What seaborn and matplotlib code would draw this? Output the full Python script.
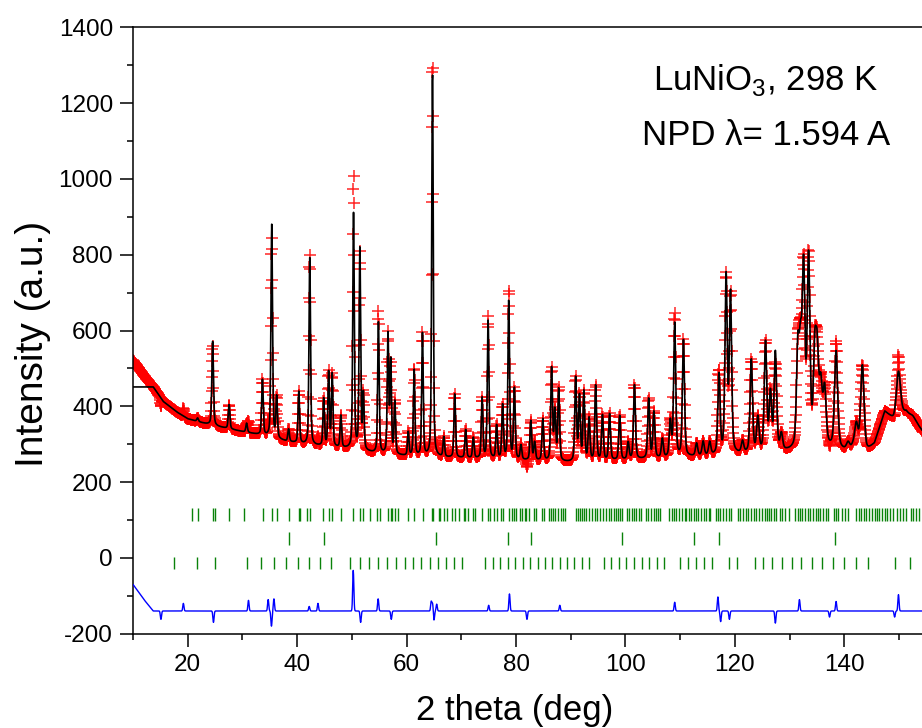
import numpy as np
import matplotlib.pyplot as plt
import seaborn as sns
from matplotlib.ticker import MultipleLocator

# --- data -----------------------------------------------------------------
# background of the calculated profile (2theta, intensity)
bg_x = [10, 13.7, 15.5, 18, 20, 23, 26, 30, 34, 38, 42, 46, 50, 54, 60, 70,
        80, 90, 100, 110, 120, 130, 137, 140, 144, 145.5, 147.4, 149, 151.3,
        153, 156, 160]
bg_y = [451, 451, 413, 385, 367, 355, 345, 333, 322, 307, 298, 292, 287, 276,
        268, 263, 258, 252, 258, 265, 272, 280, 290, 282, 278, 300, 385, 365,
        385, 360, 300, 290]

# observed excess over the calculated background at the lowest angles
excess_x = [10, 11, 12, 13, 13.7, 14.5]
excess_y = [70, 50, 30, 12, 0, 0]

# peak positions (deg) and peak tops (a.u.)
peak_pos = [21.8, 24.55, 27.55, 30.76, 33.65, 35.35, 36.25, 38.43, 40.3, 42.3,
            44.85, 45.75, 46.4, 47.99, 50.3, 51.46, 52.1, 54.85, 56.6, 57.1,
            57.85, 60.3, 61.38, 62.9, 64.73, 66.8, 68.8, 70.8, 72.2, 73.8,
            74.9, 76.45, 77.55, 78.67, 79.7, 80.9, 82.7, 83.4, 84.9, 86.5,
            87.1, 87.8, 90.9, 91.6, 92.4, 93.35, 94.56, 95.8, 97.1, 98.95,
            100.5, 101.65, 104.25, 105.2, 106.75, 108.2, 109.0, 110.6, 113.0,
            114.2, 115.4, 117.1, 118.4, 119.2, 121.4, 123.0, 124.2, 125.6,
            126.5, 127.4, 128.5, 131.5, 132.0, 132.56, 133.47, 134.6, 135.05,
            135.7, 136.4, 138.5, 140.7, 141.6, 142.2, 143.3, 149.9, 152.5]
peak_top = [369, 571, 404, 355, 469, 878, 422, 339, 438, 791,
            418, 487, 482, 374, 906, 813, 426, 620, 585, 514,
            409, 330, 497, 590, 1284, 317, 431, 337, 316, 420,
            624, 347, 400, 679, 444, 295, 360, 303, 365, 497,
            383, 442, 472, 422, 435, 365, 453, 374, 378, 374,
            303, 455, 418, 383, 312, 356, 616, 572, 300,
            305, 303, 479, 736, 690, 303, 519, 365, 563,
            426, 536, 321, 532, 514, 739, 778, 515, 505,
            440, 436, 541, 300, 290, 347, 505, 492, 374]

# peak width (FWHM, deg) against 2theta
fwhm_x = [10, 60, 100, 130, 145, 160]
fwhm_y = [0.35, 0.32, 0.40, 0.55, 0.75, 1.1]

# obs - calc misfits (position, size)
misfit_pos = [15.1, 19.2, 24.7, 31.1, 34.7, 35.3, 35.75, 42.2, 43.8, 50.25,
              51.6, 54.8, 57.2, 64.5, 64.75, 65.0, 65.5, 75.0, 78.8, 82.0,
              88.0, 109.0, 116.9, 117.4, 119.0, 127.4, 131.8, 137.3, 138.5,
              149.2, 149.9]
misfit_val = [-22, 20, -30, 28, 30, -40, 32, 12, 20, 107,
              -30, 32, -22, 25, 20, -25, 18, 15, 45, -22,
              15, 23, 37, -28, -22, -32, 30, -16, 25, -16, 43]

# Bragg reflection markers, three phases
ticks_1 = [20.83, 21.81, 24.55, 25.03, 27.59, 30.21, 33.69, 35.33, 36.25,
           38.44, 40.26, 40.56, 41.78, 42.33, 44.70, 45.74, 46.40, 47.99,
           50.24, 51.46, 51.95, 53.29, 54.51, 55.17, 56.52, 57.06, 57.36,
           57.85, 58.46, 60.23, 61.32, 62.91, 64.56, 64.85, 65.83, 66.13,
           66.80, 67.30, 68.26, 68.81, 69.49, 70.46, 70.70, 71.31, 72.10,
           72.41, 73.80, 74.90, 75.21, 75.94, 76.43, 77.34, 77.53, 78.73,
           79.22, 79.59, 80.08, 80.68, 81.05, 81.60, 81.91, 82.38, 83.24,
           83.66, 84.83, 85.07, 86.04, 86.34, 86.77, 87.19, 87.68, 88.17,
           88.60, 89.02, 90.91, 91.27, 91.64, 92.07, 92.43, 92.86, 93.34,
           93.89, 94.38, 94.81, 95.41, 95.90, 96.39, 97.00, 97.42, 97.85,
           98.34, 98.70, 99.07, 99.43, 100.28, 100.65, 101.14, 101.50,
           101.87, 102.48, 102.90, 103.82, 104.18, 104.73, 105.16, 105.52,
           105.95, 106.37, 107.96, 108.44, 108.81, 109.30, 109.78, 110.39,
           110.82, 111.12, 111.61, 112.04, 112.46, 112.95, 113.31, 113.86,
           114.29, 114.78, 115.26, 115.51, 116.60, 116.97, 117.33, 117.82,
           118.43, 118.92, 119.34, 120.56, 120.99, 121.47, 122.08, 122.45,
           122.99, 123.42, 123.91, 124.39, 124.88, 125.43, 125.86, 126.22,
           126.65, 127.07, 127.56, 128.17, 128.66, 129.08, 129.81, 131.03,
           131.52, 131.94, 132.31, 132.80, 133.28, 133.65, 134.26, 134.74,
           135.23, 135.60, 136.08, 136.57, 137.00, 138.03, 138.52, 138.88,
           139.62, 140.04, 140.65, 142.17, 142.66, 143.09, 143.51, 144.00,
           144.49, 145.09, 145.52, 145.95, 146.43, 146.92, 147.35, 147.77,
           148.26, 148.87, 149.60, 150.09, 150.69, 151.30, 152.22, 152.64,
           153.13, 153.74]
ticks_2 = [38.55, 44.83, 65.29, 78.49, 82.75, 99.44, 112.52, 117.16, 138.35]
ticks_3 = [17.54, 21.63, 25.03, 30.82, 33.32, 35.75, 37.95, 40.08, 42.15,
           44.16, 46.11, 49.64, 51.46, 53.11, 54.80, 56.45, 58.09, 59.63,
           61.20, 62.66, 64.19, 65.65, 67.17, 68.63, 70.09, 74.35, 75.70,
           77.09, 78.49, 79.83, 81.23, 82.57, 83.97, 85.31, 86.66, 87.99,
           89.32, 90.67, 92.01, 93.34, 96.08, 97.43, 98.77, 100.17, 101.56,
           102.97, 104.30, 105.71, 107.11, 109.96, 111.42, 112.89, 114.35,
           115.88, 118.91, 120.45, 123.66, 125.20, 126.84, 128.59, 130.37,
           132.14, 134.02, 135.90, 137.85, 139.92, 142.11, 144.37, 149.23,
           152.04]
tick_rows = [(98, 133), (35, 69), (-28, 3)]
diff_offset = -140

# --- build the profiles ----------------------------------------------------
two_theta = np.arange(10, 154.5, 0.05)


def pseudo_voigt(x, x0, w, eta=0.4):
    d = (x - x0) / w
    return eta / (1 + 4 * d ** 2) + (1 - eta) * np.exp(-4 * np.log(2) * d ** 2)


calc = np.interp(two_theta, bg_x, bg_y)
for p, h in zip(peak_pos, peak_top):
    amp = h - np.interp(p, bg_x, bg_y)
    calc = calc + amp * pseudo_voigt(two_theta, p, np.interp(p, fwhm_x, fwhm_y))

obs = calc + np.interp(two_theta, excess_x, excess_y)
for p, v in zip(misfit_pos, misfit_val):
    obs = obs + v * np.exp(-4 * np.log(2) * ((two_theta - p) / 0.25) ** 2)

diff = obs - calc + diff_offset

# --- plot -------------------------------------------------------------------
sns.set_style("ticks")
plt.rcParams['font.family'] = ['Liberation Sans', 'DejaVu Sans']
plt.rcParams['mathtext.fontset'] = 'custom'
plt.rcParams['mathtext.rm'] = 'Liberation Sans'
plt.rcParams['axes.unicode_minus'] = False
plt.rcParams['text.color'] = 'black'
plt.rcParams['axes.labelcolor'] = 'black'
plt.rcParams['xtick.color'] = 'black'
plt.rcParams['ytick.color'] = 'black'
plt.rcParams['axes.edgecolor'] = 'black'

fig = plt.figure(figsize=(9.22, 7.28), dpi=100)
ax = fig.add_axes([0.1443, 0.1295, 0.8557, 0.8330])

sns.scatterplot(x=two_theta, y=obs, marker='+', s=75, color='red',
                linewidth=1.1, alpha=0.85, ax=ax, zorder=2)
sns.lineplot(x=two_theta, y=calc, color='black', linewidth=1.2,
             sort=False, estimator=None, ax=ax, zorder=3)
sns.lineplot(x=two_theta, y=diff, color='#0000ff', linewidth=1.0,
             sort=False, estimator=None, ax=ax, zorder=3)

for pos, (lo, hi) in zip([ticks_1, ticks_2, ticks_3], tick_rows):
    ax.vlines(pos, lo, hi, color='#0a820a', linewidth=1.0, zorder=2)

ax.set_xlim(10, 154.2)
ax.set_ylim(-200, 1400)
ax.xaxis.set_major_locator(MultipleLocator(20))
ax.xaxis.set_minor_locator(MultipleLocator(10))
ax.yaxis.set_major_locator(MultipleLocator(200))
ax.yaxis.set_minor_locator(MultipleLocator(100))
ax.tick_params(which='major', direction='out', length=9.5, width=1.1,
               labelsize=17.5, pad=5, colors='black')
ax.tick_params(which='minor', direction='out', length=4.5, width=1.1,
               colors='black')
for side in ['left', 'bottom', 'top']:
    ax.spines[side].set_linewidth(1.1)
    ax.spines[side].set_color('black')
ax.spines['right'].set_visible(False)

ax.set_xlabel('2 theta (deg)', fontsize=25)
ax.xaxis.set_label_coords(0.484, -0.126)
ax.xaxis.label.set_va('center')
ax.set_ylabel('Intensity (a.u.)', fontsize=28)
ax.yaxis.set_label_coords(-0.127, 0.478)
ax.yaxis.label.set_va('center')

ax.text(0.802, 0.8966, 'LuNiO$_3$, 298 K', transform=ax.transAxes,
        ha='center', va='baseline', fontsize=25)
ax.text(0.802, 0.8059, 'NPD \u03bb= 1.594 A', transform=ax.transAxes,
        ha='center', va='baseline', fontsize=25)

fig.savefig('out.png', dpi=100)
